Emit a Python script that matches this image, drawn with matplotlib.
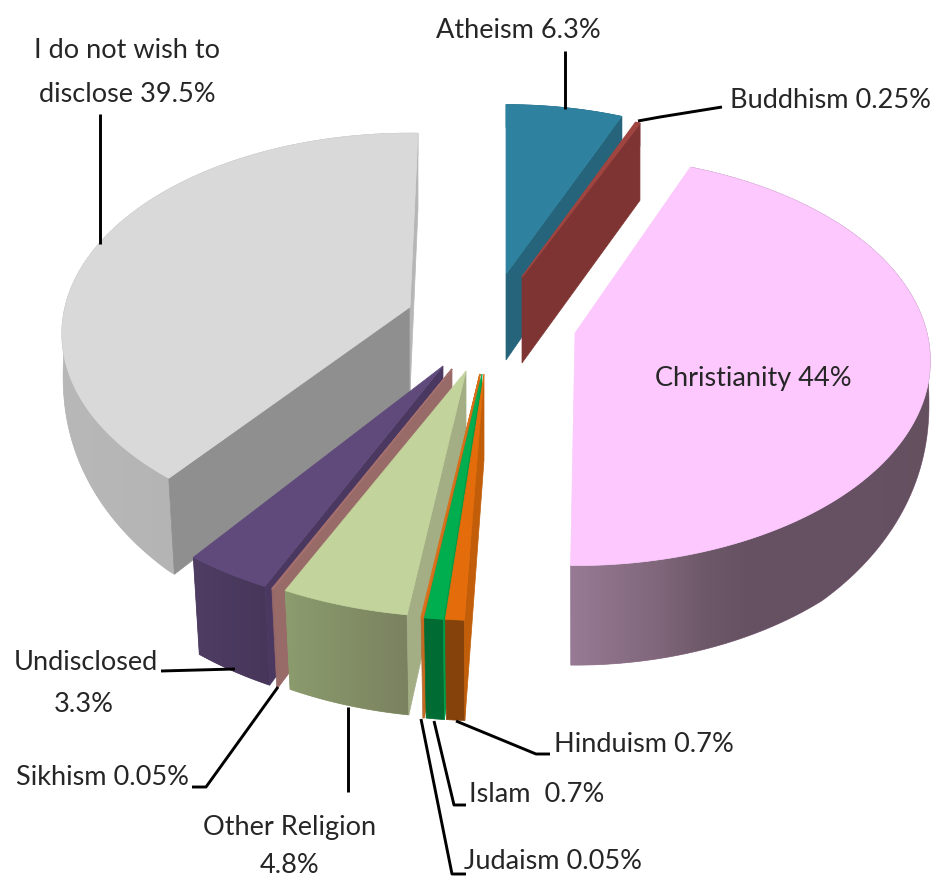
import numpy as np
import matplotlib
matplotlib.use("Agg")
import matplotlib.pyplot as plt
from matplotlib.colors import to_rgb
from matplotlib.patches import Polygon

# Share of respondents per answer, clockwise from twelve o'clock
categories = ["Atheism", "Buddhism", "Christianity", "Hinduism", "Islam", "Judaism",
              "Other Religion", "Sikhism", "Undisclosed", "I do not wish to disclose"]
shares = [6.3, 0.25, 44, 0.7, 0.7, 0.05, 4.8, 0.05, 3.3, 39.5]

# Placement of each exploded slice: tip position, radius, small angular correction
tips = [(506, 275), (522, 278), (575, 334), (484, 375), (482, 375), (480, 375),
        (466, 372), (452, 370), (443, 367), (410, 308)]
radii = [335, 328, 352, 370, 370, 370, 370, 370, 370, 345]
angle_nudge = [0, 0, -2, 0, 0, 0, 0, -0.3, -0.6, 1.5]

# Colours: top face, radial wall, outer rim from left to right on the page
top_colors = ["#2e829f", "#a04440", "#fcc8fd", "#e46c0a", "#00ae50", "#d9711c",
              "#c2d39b", "#a56f6e", "#5f4a7b", "#d9d9d9"]
wall_colors = ["#25647a", "#7e3432", "#6f5a6f", "#c25e09", "#009b46", "#c8681c",
               "#a3ae85", "#986a68", "#4a3860", "#8f8f8f"]
rim_stops = [["#25647a"], ["#7e3432"],
             ["#977a94", "#8b7087", "#7f667a", "#6c5868", "#665163", "#665163",
              "#665163", "#665163", "#65505f"],
             ["#85430b"], ["#006b32"], ["#b96a30"],
             ["#8c9c6e", "#7a825f"], ["#98696a"], ["#4f3d63", "#47365a"],
             ["#b8b8b8", "#b4b4b4", "#b8b8b8", "#ababab"]]
end_wall_color = {9: "#b6b6b6"}

# Slices are painted from back to front
paint_order = [0, 1, 9, 2, 8, 7, 6, 5, 4, 3]

# Callouts: text lines and leader polylines
label_texts = [("Atheism 6.3%", 518, 31), ("Buddhism 0.25%", 831, 101),
               ("I do not wish to", 127, 51), ("disclose 39.5%", 127, 94),
               ("Christianity 44%", 753, 379), ("Undisclosed", 86, 663), ("3.3%", 84, 705),
               ("Sikhism 0.05%", 102, 778), ("Other Religion", 290, 828), ("4.8%", 290, 866),
               ("Judaism 0.05%", 553, 862), ("Islam  0.7%", 537, 795), ("Hinduism 0.7%", 644, 745)]
leaders = [[(565, 52), (565, 110)], [(638, 122), (660, 118), (722, 108)], [(100, 115), (100, 245)],
           [(161, 672), (235, 670)], [(192, 788), (206, 788), (278, 688)],
           [(348, 708), (348, 793)], [(421, 720), (452, 875), (466, 875)],
           [(434, 722), (454, 806), (466, 806)], [(456, 722), (536, 755), (550, 755)]]

SQUASH = 0.571
CAMERA = 2590.0
DEPTH = 86.0
FRONT_TAPER = 0.03

fig = plt.figure(figsize=(9.33, 8.79), dpi=100)
ax = fig.add_axes([0, 0, 1, 1])
ax.axis("off")


def project(tip, radius, angle_deg, drop=0.0, sag=False):
    """Perspective position of a point on a slice, angle clockwise from the top.

    With sag, the lower rim edge rises towards the sides of the pie so that it
    meets the top face's outline there.
    """
    a = np.radians(angle_deg)
    x = radius * np.sin(a)
    y = radius * np.cos(a)
    k = 1.0 / (1.0 + y / CAMERA)
    front = np.clip(-y / radius, 0, 1)
    taper = 1.0 - FRONT_TAPER * front * drop / DEPTH
    height = drop * np.minimum(1.0, 0.3 + 0.8 * np.sqrt(front)) if sag else drop
    return np.column_stack([tip[0] + x * k * taper, tip[1] - SQUASH * y * k + height * k])


def wall_quad(tip, radius, angle):
    edge = project(tip, radius, np.array([angle]))[0]
    low = project(tip, radius, np.array([angle]), DEPTH)[0]
    return [tip, edge, low, (tip[0], tip[1] + DEPTH)]


def wall_shows(tip, radius, angle, other):
    """A radial wall is seen when the top face lies on the far side of its edge."""
    e = project(tip, radius, np.array([angle]))[0] - tip
    q = project(tip, radius, np.array([other]))[0] - tip
    return e[0] * np.sign(e[0] * q[1] - e[1] * q[0]) < 0


def draw_rim(tip, radius, angles, stops, z):
    """Outer rim of a slice, filled flat or with a left-to-right gradient."""
    outline = np.vstack([project(tip, radius, angles),
                         project(tip, radius, angles[::-1], DEPTH, sag=True)])
    base = Polygon(outline, closed=True, fc=stops[0], ec=stops[0], lw=0.5, zorder=z)
    ax.add_patch(base)
    if len(stops) > 1:
        rgb = np.array([to_rgb(c) for c in stops])
        pos = np.linspace(0, 1, len(stops))
        t = np.linspace(0, 1, 256)
        ramp = np.stack([np.interp(t, pos, rgb[:, c]) for c in range(3)], axis=-1)[None, :, :]
        im = ax.imshow(ramp, extent=(outline[:, 0].min(), outline[:, 0].max(),
                                     outline[:, 1].max(), outline[:, 1].min()),
                       aspect="auto", interpolation="bilinear", zorder=z)
        im.set_clip_path(base)


fractions = np.cumsum([0] + shares) / np.sum(shares) * 360.0

for order, i in enumerate(paint_order):
    z = 2 + order
    tip = np.array(tips[i], float)
    r = radii[i]
    a0, a1 = fractions[i] + angle_nudge[i], fractions[i + 1] + angle_nudge[i]
    angles = np.linspace(a0, a1, max(int((a1 - a0) * 2), 3) + 1)

    draw_rim(tip, r, angles, rim_stops[i], z)

    # Radial walls that face the viewer
    if wall_shows(tip, r, a0, a1):
        c = wall_colors[i]
        ax.add_patch(Polygon(wall_quad(tip, r, a0), closed=True, fc=c, ec=c, lw=0.5, zorder=z + 0.1))
    if wall_shows(tip, r, a1, a0):
        c = end_wall_color.get(i, wall_colors[i])
        ax.add_patch(Polygon(wall_quad(tip, r, a1), closed=True, fc=c, ec=c, lw=0.5, zorder=z + 0.1))

    # Top face; the thinnest slices keep a visible sliver from their outline
    outline = np.vstack([[tip], project(tip, r, angles)])
    thin = (a1 - a0) < 1.0
    ax.add_patch(Polygon(outline, closed=True, fc=top_colors[i], ec=top_colors[i],
                         lw=1.0 if thin else 0.5, zorder=z + 0.2))

for path in leaders:
    xs, ys = zip(*path)
    ax.plot(xs, ys, color="black", lw=2.1, solid_capstyle="butt", zorder=20)

for text, x, y in label_texts:
    ax.text(x, y, text, ha="center", va="center", fontsize=19.5, family="Lato",
            color="#262626", zorder=21)

ax.set_xlim(0, 933)
ax.set_ylim(879, 0)

fig.savefig("out.png", dpi=100)
